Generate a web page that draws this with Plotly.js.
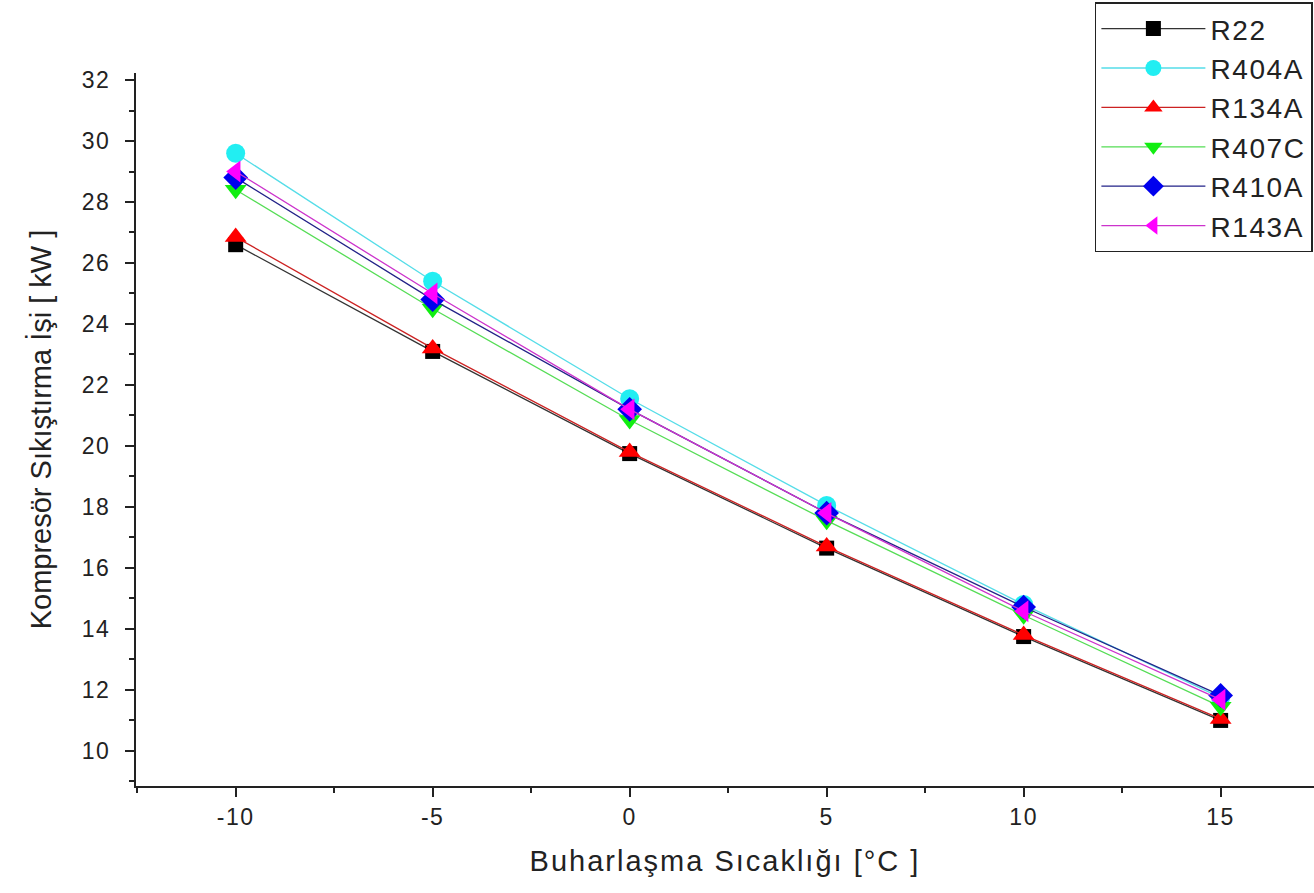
<!DOCTYPE html>
<html>
<head>
<meta charset="utf-8">
<script src="https://cdn.plot.ly/plotly-3.0.1.min.js"></script>
<style>
html,body{margin:0;padding:0;background:#fff;overflow:hidden}
#chart{width:1314px;height:893px}
.xtick text, .ytick text{letter-spacing:1.5px}
text.xtitle{letter-spacing:2px}
text.legendtext{letter-spacing:1.6px}
</style>
</head>
<body>
<div id="chart"></div>
<script>
const temps = [-10, -5, 0, 5, 10, 15];
const xTickVals = [-10, -5, 0, 5, 10, 15];
const xTickLabels = ["-10", "-5", "0", "5", "10", "15"];
const seriesNames = ["R22", "R404A", "R134A", "R407C", "R410A", "R143A"];
const R22   = [26.6, 23.1, 19.75, 16.65, 13.75, 11.0];
const R404A = [29.6, 25.4, 21.55, 18.05, 14.8, 11.75];
const R134A = [26.85, 23.2, 19.8, 16.7, 13.8, 11.05];
const R407C = [28.4, 24.5, 20.85, 17.55, 14.45, 11.45];
const R410A = [28.8, 24.8, 21.2, 17.8, 14.72, 11.82];
const R143A = [29.0, 25.0, 21.2, 17.8, 14.58, 11.68];

const seriesValues = [R22, R404A, R134A, R407C, R410A, R143A];
const colors = ["#000000", "#22eef2", "#ff0000", "#11ee11", "#0000ee", "#ff00ff"];
const lineColors = ["#333333", "#55dde8", "#cc2222", "#55dd55", "#222288", "#cc33cc"];
const symbols = ["square", "circle", "triangle-up", "triangle-down", "diamond", "triangle-left"];
const sizes = [15, 19, 19, 19, 19, 19];

const traces = seriesNames.map((name, i) => ({
  x: temps,
  y: seriesValues[i],
  name: name,
  type: "scatter",
  mode: "lines+markers",
  legendgroup: name,
  line: {color: lineColors[i], width: 1.3},
  marker: {symbol: symbols[i], color: colors[i], size: sizes[i], line: {width: 0}}
}));

const tickFont = {family: "Liberation Sans, Arial, sans-serif", size: 23, color: "#222"};

const layout = {
  width: 1314,
  height: 893,
  margin: {l: 136, r: 0, t: 73, b: 107, autoexpand: false},
  paper_bgcolor: "#ffffff",
  plot_bgcolor: "#ffffff",
  showlegend: true,
  legend: {
    x: 0.814, xanchor: "left",
    y: 1.099, yanchor: "top",
    bgcolor: "#ffffff",
    bordercolor: "#222",
    borderwidth: 1.5,
    font: {family: "Liberation Sans, Arial, sans-serif", size: 28, color: "#222"},
    tracegroupgap: 0,
    itemwidth: 104
  },
  xaxis: {
    range: [-12.53, 17.37],
    tickmode: "array", tickvals: xTickVals, ticktext: xTickLabels,
    ticks: "outside", ticklen: 9, tickwidth: 2, tickcolor: "#222",
    minor: {dtick: 2.5, tick0: -10, ticks: "outside", ticklen: 5, tickwidth: 2, tickcolor: "#222"},
    showline: true, linecolor: "#222", linewidth: 2,
    showgrid: false, zeroline: false,
    tickfont: tickFont,
    ticklabelstandoff: 0,
    automargin: false,
    title: {text: "Buharlaşma Sıcaklığı [°C ]", font: {family: "Liberation Sans, Arial, sans-serif", size: 29, color: "#222"}, standoff: 22}
  },
  yaxis: {
    range: [8.85, 32.23],
    tickmode: "linear", tick0: 10, dtick: 2,
    ticks: "outside", ticklen: 9, tickwidth: 2, tickcolor: "#222",
    minor: {dtick: 1, tick0: 9, ticks: "outside", ticklen: 5, tickwidth: 2, tickcolor: "#222"},
    showline: true, linecolor: "#222", linewidth: 2,
    showgrid: false, zeroline: false,
    tickfont: tickFont,
    ticklabelstandoff: 10,
    automargin: false,
    title: {text: "Kompresör Sıkıştırma İşi [ kW ]", font: {family: "Liberation Sans, Arial, sans-serif", size: 29, color: "#222"}, standoff: 22}
  }
};

Plotly.newPlot("chart", traces, layout, {displayModeBar: false, staticPlot: true});
</script>
</body>
</html>
